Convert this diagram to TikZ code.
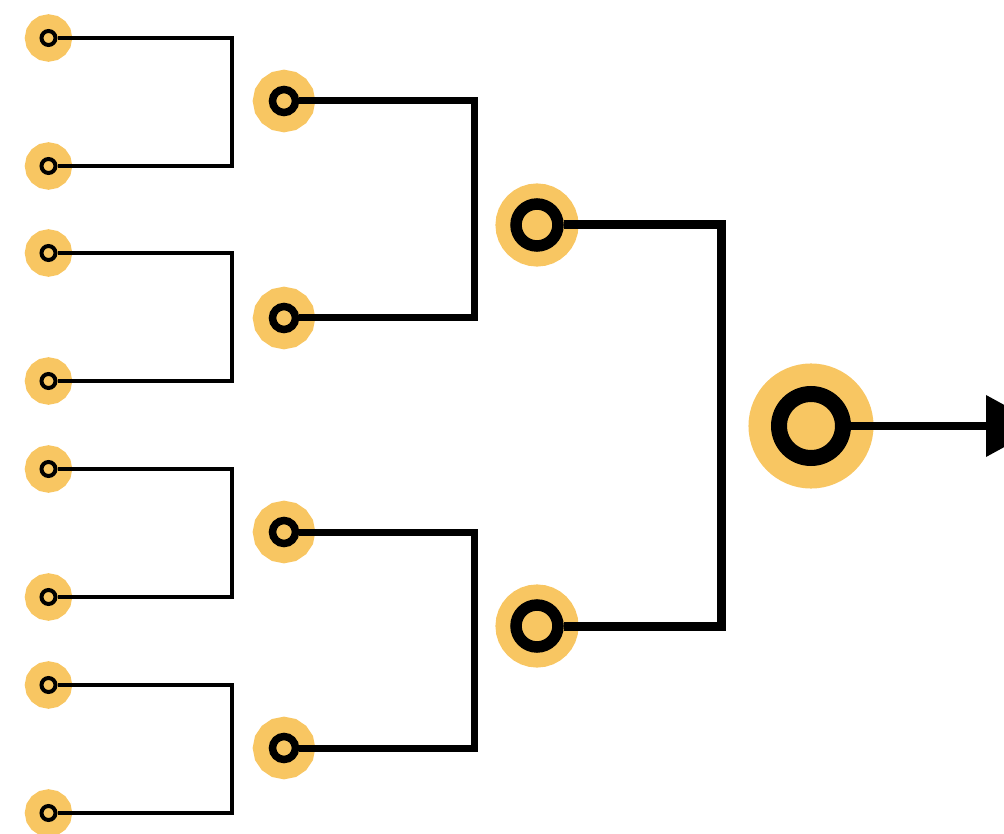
\documentclass[tikz,border=0pt]{standalone}
\usetikzlibrary{arrows.meta}
\definecolor{halo}{RGB}{248,198,98}
\tikzstyle{player} =
        [
                circle,
                draw,
                fill = halo,
                inner sep = 0pt,
                minimum size = 14pt,
                line width = 4pt,
                preaction = {draw = halo, line width = 33pt}
        ]
\tikzstyle{quarter} =
        [
                circle,
                draw,
                fill = halo,
                inner sep = 0pt,
                minimum size = 23pt,
                line width = 7.5pt,
                preaction = {draw = halo, line width = 39pt}
        ]
\tikzstyle{semi} =
        [
                circle,
                draw,
                fill = halo,
                inner sep = 0pt,
                minimum size = 42pt,
                line width = 11.5pt,
                preaction = {draw = halo, line width = 41pt}
        ]
\tikzstyle{winner} =
        [
                circle,
                draw,
                fill = halo,
                inner sep = 0pt,
                minimum size = 64pt,
                line width = 16pt,
                preaction = {draw = halo, line width = 61pt}
        ]
\tikzstyle{leafline} =
        [
                draw,
                line width = 4.3pt
        ]
\tikzstyle{quarterline} =
        [
                draw,
                line width = 7pt
        ]
\tikzstyle{semiline} =
        [
                draw,
                line width = 9pt
        ]
\tikzstyle{line} =
        [
                draw,
                line width = 7.5pt,
                -{Triangle[length = 57pt, width = 60pt]}
        ]

\begin{document}
\begin{tikzpicture}[x = 1pt, y = -1pt]
        \useasboundingbox (0,0) rectangle (1004,834);
        % first round
        \node [player] (p1) at (48.5,38) {};
        \node [player] (p2) at (48.5,166) {};
        \node [player] (p3) at (48.5,253) {};
        \node [player] (p4) at (48.5,381) {};
        \node [player] (p5) at (48.5,469) {};
        \node [player] (p6) at (48.5,597) {};
        \node [player] (p7) at (48.5,685) {};
        \node [player] (p8) at (48.5,813) {};
        % quarter finals
        \node [quarter] (q1) at (284,101) {};
        \node [quarter] (q2) at (284,318) {};
        \node [quarter] (q3) at (284,532) {};
        \node [quarter] (q4) at (284,748) {};
        % semi finals
        \node [semi] (s1) at (537,225) {};
        \node [semi] (s2) at (537,626) {};
        % final
        \node [winner] (w) at (811,426) {};
        \coordinate (out) at (1043,426);

        \path [leafline] (p1) -- ++(183.5,0) |- (p2);
        \path [leafline] (p3) -- ++(183.5,0) |- (p4);
        \path [leafline] (p5) -- ++(183.5,0) |- (p6);
        \path [leafline] (p7) -- ++(183.5,0) |- (p8);
        \path [quarterline] (q1) -- ++(190.5,0) |- (q2);
        \path [quarterline] (q3) -- ++(190.5,0) |- (q4);
        \path [semiline] (s1) -- ++(184,0) |- (s2);
        \path [line] (w) -- (out);
\end{tikzpicture}
\end{document}
